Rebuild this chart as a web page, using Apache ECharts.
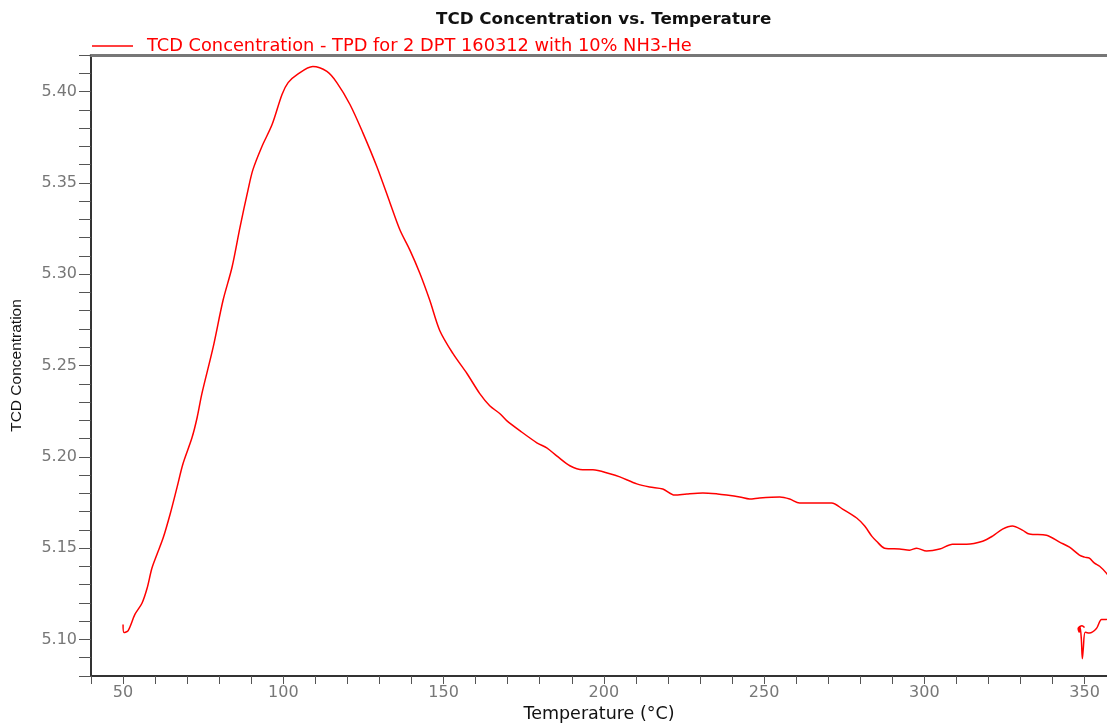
<!DOCTYPE html>
<html>
<head>
<meta charset="utf-8">
<script src="https://cdn.jsdelivr.net/npm/echarts@6/dist/echarts.min.js"></script>
<style>html,body{margin:0;padding:0;background:#fff}#c{width:1107px;height:723px}</style>
</head>
<body>
<div id="c"></div>
<script>
var chartTitle = 'TCD Concentration vs. Temperature';
var seriesName = 'TCD Concentration - TPD for 2 DPT 160312 with 10% NH3-He';
var xAxisName = 'Temperature (°C)';
var yAxisName = 'TCD Concentration';

// Temperature (°C)
var temps = [50.0,50.3,51.6,53.7,55.9,57.5,59.0,60.6,62.5,64.7,66.8,68.7,71.5,73.1,74.6,78.1,81.2,84.0,86.5,89.0,90.5,93.3,96.5,99.6,101.5,104.3,109.2,113.6,116.7,120.8,124.8,129.2,133.3,136.4,139.5,142.6,145.7,148.8,152.9,157.3,161.3,164.4,167.6,169.7,173.8,179.1,182.2,185.3,189.4,193.4,196.6,201.9,205.0,210.3,214.3,218.4,222.1,225.9,230.9,235.5,238.3,242.4,245.5,248.6,254.9,258.0,261.1,265.2,271.1,274.5,278.9,281.4,283.6,285.1,287.6,292.3,295.4,297.6,300.7,304.8,308.8,313.2,318.2,321.3,324.4,327.5,330.6,332.8,338.1,342.2,345.3,348.4,350.0,351.5,353.1,354.7,356.8,359.0,361.0,360.0,356.8,355.3,353.7,351.5,350.2,349.6,349.3,349.0,348.6,348.3,348.0,349.2,350.0];
// TCD Concentration
var conc = [5.1082,5.1038,5.1049,5.1137,5.1198,5.1280,5.1390,5.1467,5.1555,5.1687,5.1830,5.1962,5.2104,5.2214,5.2346,5.2599,5.2857,5.3038,5.3258,5.3462,5.3571,5.3698,5.3819,5.3984,5.4049,5.4093,5.4137,5.4110,5.4049,5.3929,5.3775,5.3588,5.3390,5.3242,5.3132,5.3005,5.2857,5.2692,5.2566,5.2456,5.2346,5.2280,5.2236,5.2198,5.2143,5.2077,5.2049,5.2005,5.1951,5.1929,5.1929,5.1907,5.1890,5.1852,5.1835,5.1824,5.1791,5.1797,5.1802,5.1797,5.1791,5.1780,5.1769,5.1775,5.1780,5.1769,5.1747,5.1747,5.1747,5.1714,5.1665,5.1621,5.1566,5.1538,5.1500,5.1495,5.1489,5.1500,5.1484,5.1495,5.1522,5.1522,5.1538,5.1566,5.1604,5.1621,5.1599,5.1577,5.1571,5.1533,5.1505,5.1462,5.1451,5.1445,5.1418,5.1401,5.1363,5.1300,5.1220,5.1140,5.1110,5.1110,5.1060,5.1035,5.1040,5.0950,5.0895,5.1000,5.1070,5.1040,5.1060,5.1075,5.1065];

var xMin = 40, xMax = 357, xStep = 10, xLabelStep = 50;
var yMin = 5.08, yMax = 5.42, yStep = 0.01, yLabelStep = 5;

var pts = temps.map(function (t, i) { return [t, conc[i]]; });
var FONT = 'DejaVu Sans';

var chart = echarts.init(document.getElementById('c'));
chart.setOption({
  animation: false,
  backgroundColor: '#ffffff',
  title: {
    text: chartTitle,
    left: 431, top: 6,
    textStyle: { fontFamily: FONT, fontSize: 16.7, fontWeight: 'bold', color: '#111' }
  },
  legend: {
    left: 87, top: 32,
    itemWidth: 41, itemHeight: 1.6, itemGap: 10,
    data: [{ name: seriesName, icon: 'rect', itemStyle: { color: '#ff0000', borderWidth: 0 } }],
    textStyle: { fontFamily: FONT, fontSize: 17.8, color: '#ff0000', padding: [0, 0, 0, 9] }
  },
  grid: { left: 91, right: 0, top: 55, height: 621, containLabel: false, outerBoundsMode: 'none' },
  xAxis: [{
    type: 'value', min: xMin, max: xMax, interval: xStep,
    name: xAxisName, nameLocation: 'middle', nameGap: 29,
    nameTextStyle: { fontFamily: FONT, fontSize: 17.5, color: '#111' },
    axisLine: { lineStyle: { color: '#333', width: 2 } },
    axisTick: { show: true, inside: false, length: 8, lineStyle: { color: '#555' } },
    axisLabel: {
      fontFamily: FONT, fontSize: 16, color: '#777', margin: 9,
      formatter: function (v) { return (Math.round(v) % xLabelStep === 0) ? String(Math.round(v)) : ''; }
    },
    splitLine: { show: false }
  }, {
    type: 'value', position: 'top', min: xMin, max: xMax,
    axisLine: { show: true, lineStyle: { color: '#777', width: 3 } },
    axisTick: { show: false }, axisLabel: { show: false }, splitLine: { show: false }
  }],
  yAxis: {
    type: 'value', min: yMin, max: yMax, interval: yStep,
    name: yAxisName, nameLocation: 'middle', nameGap: 66, nameRotate: 90,
    nameTextStyle: { fontFamily: 'Liberation Sans', fontSize: 15.5, color: '#111' },
    axisLine: { show: true, lineStyle: { color: '#333', width: 2 } },
    axisTick: { show: true, inside: false, length: 12, lineStyle: { color: '#555' } },
    axisLabel: {
      fontFamily: FONT, fontSize: 16, color: '#777', margin: 14,
      formatter: function (v) { var k = Math.round(v * 100); return (k % yLabelStep === 0) ? (k / 100).toFixed(2) : ''; }
    },
    splitLine: { show: false }
  },
  series: [{
    name: seriesName,
    type: 'line',
    data: pts,
    showSymbol: false, symbol: 'none',
    smooth: 0.3,
    clip: true,
    lineStyle: { color: '#ff0000', width: 1.5 },
    itemStyle: { color: '#ff0000' }
  }]
});
</script>
</body>
</html>
